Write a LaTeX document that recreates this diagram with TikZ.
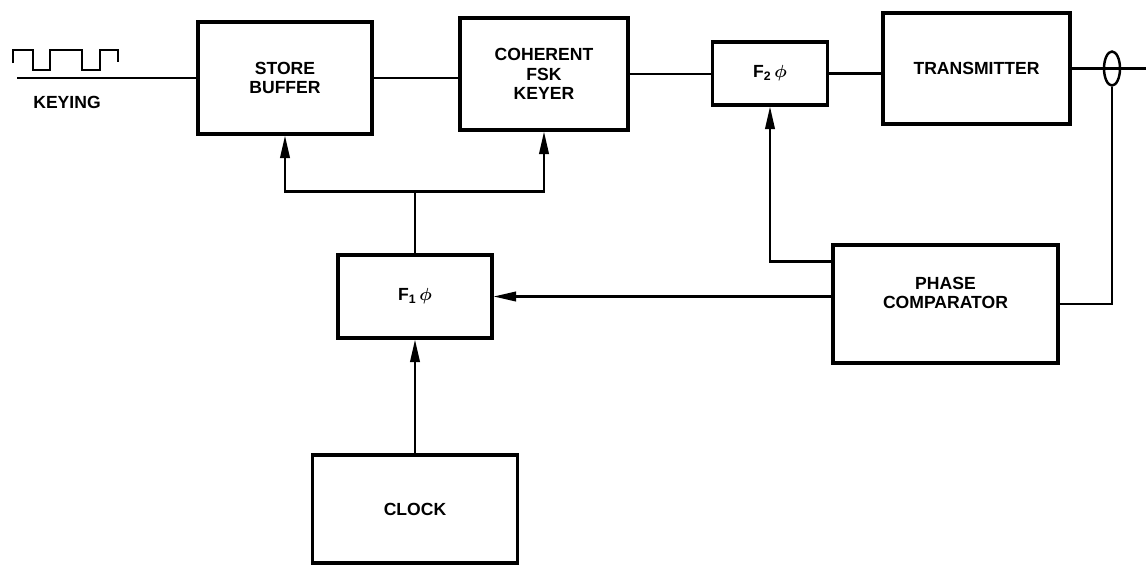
\documentclass[tikz,border=0pt]{standalone}
\usepackage{fontspec}
\setmainfont{Liberation Sans}
\usetikzlibrary{positioning, arrows.meta, shapes.geometric, calc}

\begin{document}
\begin{tikzpicture}[x=0.02cm, y=-0.02cm,
  blk/.style={rectangle, draw=black, line width=1.8pt, inner sep=0pt,
              align=center, font=\fontsize{10}{11}\selectfont\bfseries},
  arr/.style={-{Triangle[length=4.5mm, width=1.9mm]}, line width=1.3pt},
  wire/.style={line width=1.3pt},
  lbl/.style={font=\fontsize{10}{11}\selectfont\bfseries}
]
\useasboundingbox (0,0) rectangle (1146,566);

% Blocks
\node[blk, minimum width=3.48cm, minimum height=2.24cm] (store) at (285,78)
    {STORE\\BUFFER};
\node[blk, minimum width=3.36cm, minimum height=2.24cm] (keyer) at (544,74)
    {COHERENT\\FSK\\KEYER};
\node[blk, minimum width=2.3cm, minimum height=1.26cm] (f2) at (770,73.5)
    {F\textsubscript{2}\,{\boldmath$\phi$}};
\node[blk, minimum width=3.74cm, minimum height=2.22cm] (tx) at (976.5,68.5)
    {TRANSMITTER};
\node[blk, minimum width=4.5cm, minimum height=2.36cm] (comp) at (945.5,304)
    {PHASE\\COMPARATOR\\[2pt]};
\node[blk, minimum width=3.08cm, minimum height=1.66cm] (f1) at (415,296.5)
    {F\textsubscript{1}\,{\boldmath$\phi$}};
\node[blk, minimum width=4.1cm, minimum height=2.16cm] (clock) at (415,509)
    {CLOCK};

% Keying input
\draw[line width=1.6pt] (13,63) -- (13,50) -- (33,50) -- (33,70) -- (50,70)
    -- (50,50) -- (82,50) -- (82,70) -- (100,70) -- (100,50) -- (118,50) -- (118,62);
\node[lbl] (keylbl) at (67,102) {KEYING};
\coordinate (keyin) at (17,78);

% Output coupler
\coordinate (antout) at (1146,68.5);
\node[ellipse, draw=black, line width=1.4pt, inner sep=0pt,
      minimum width=0.32cm, minimum height=0.68cm] (ct) at (1112,68.5) {};

% Signal path
\draw[wire] (keyin) -- (store.west);
\draw[wire] (store.east) -- (store.east -| keyer.west);
\draw[wire] (keyer.east) -- (keyer.east -| f2.west);
\draw[wire] (f2.east) -- (f2.east -| tx.west);
\draw[wire] (tx.east) -- (antout);

% Feedback loops
\draw[wire] (ct.south) |- (comp.east);
\draw[arr] ($(comp.north west)!0.15!(comp.south west)$) -| (f2.south);
\draw[arr] (comp.west |- f1.east) -- (f1.east);

% Clock distribution
\draw[arr] (clock.north) -- (f1.south);
\draw[wire] (f1.north) -- ++(0,-62) coordinate (split);
\draw[arr] (split) -| (store.south);
\draw[arr] (split) -| (keyer.south);

\end{tikzpicture}
\end{document}
